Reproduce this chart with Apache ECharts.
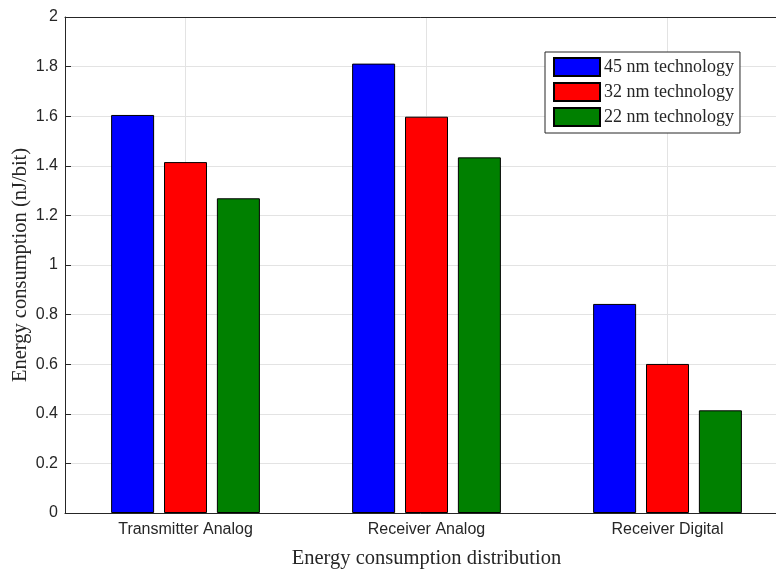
<!DOCTYPE html>
<html>
<head>
<meta charset="utf-8">
<script src="https://cdn.jsdelivr.net/npm/echarts@6/dist/echarts.min.js"></script>
<style>
  html, body { margin: 0; padding: 0; background: #fff; }
  #chart { width: 776px; height: 569px; }
</style>
</head>
<body>
<div id="chart"></div>
<script>
// Energy consumption per bit by block, for three process nodes
const categories = ['Transmitter Analog', 'Receiver Analog', 'Receiver Digital'];
const seriesNames = ['45 nm technology', '32 nm technology', '22 nm technology'];
const values45 = [1.605, 1.812, 0.843];
const values32 = [1.415, 1.598, 0.601];
const values22 = [1.269, 1.434, 0.414];
const seriesColors = ['#0000ff', '#ff0000', '#008000'];
const yTicks = { min: 0, max: 2, interval: 0.2 };

const serif = '"Liberation Serif", "DejaVu Serif", serif';
const sans = '"Liberation Sans", Arial, sans-serif';
const ink = '#262626';

const chart = echarts.init(document.getElementById('chart'), null, { renderer: 'canvas' });

const allValues = [values45, values32, values22];

chart.setOption({
  animation: false,
  backgroundColor: '#ffffff',
  grid: {
    left: 65, right: -12, top: 17, bottom: 56,
    containLabel: false,
    outerBoundsMode: 'none',
    show: false
  },
  legend: {
    orient: 'vertical',
    left: 545, top: 52,
    icon: 'rect',
    itemWidth: 46, itemHeight: 18, itemGap: 5,
    padding: [5, 6, 6, 8],
    borderColor: ink, borderWidth: 1, backgroundColor: '#ffffff',
    textStyle: { fontFamily: serif, fontSize: 18, lineHeight: 18, color: ink, padding: [0, 0, 0, -1] },
    data: seriesNames
  },
  xAxis: [{
    type: 'category',
    data: categories,
    name: 'Energy consumption distribution',
    nameLocation: 'middle',
    nameGap: 35,
    nameMoveOverlap: false,
    nameTextStyle: { fontFamily: serif, fontSize: 20.5, color: ink },
    axisLine: { lineStyle: { color: ink, width: 1 } },
    axisTick: { show: false },
    axisLabel: { fontFamily: sans, fontSize: 16, color: ink, margin: 9 },
    splitLine: { show: true, alignWithLabel: true, lineStyle: { color: '#e3e3e3', width: 1 } }
  }, {
    // top frame line of the axes box
    type: 'category',
    data: categories,
    position: 'top',
    axisLine: { show: true, lineStyle: { color: ink, width: 1 } },
    axisTick: { show: false },
    axisLabel: { show: false },
    splitLine: { show: false }
  }],
  yAxis: {
    type: 'value',
    min: yTicks.min, max: yTicks.max, interval: yTicks.interval,
    name: 'Energy consumption (nJ/bit)',
    nameLocation: 'middle',
    nameGap: 34,
    nameMoveOverlap: false,
    nameTextStyle: { fontFamily: serif, fontSize: 20.5, color: ink },
    axisLine: { show: true, lineStyle: { color: ink, width: 1 } },
    axisTick: { show: true, inside: true, length: 6, lineStyle: { color: ink } },
    axisLabel: { fontFamily: sans, fontSize: 16, color: ink, margin: 7 },
    splitLine: { show: true, lineStyle: { color: '#e3e3e3', width: 1 } }
  },
  series: seriesNames.map((name, i) => ({
    name: name,
    type: 'bar',
    xAxisIndex: 0,
    data: allValues[i],
    barWidth: 43,
    barGap: '23%',
    itemStyle: { color: seriesColors[i], borderColor: '#000000', borderWidth: 1 }
  }))
});
</script>
</body>
</html>
